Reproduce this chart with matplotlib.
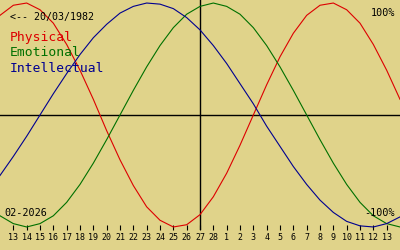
import matplotlib
matplotlib.use("Agg")
import matplotlib.pyplot as plt

# day index 0 = 13 Feb 2026, 14 = 27 Feb 2026 (today)
days = list(range(-1, 30))
tick_days = list(range(0, 29))
tick_labels = [str(d) for d in range(13, 29)] + [str(d) for d in range(1, 14)]

# biorhythm values in %, read per day (12 Feb .. 14 Mar)
physical = [89, 98, 100, 94, 82, 63, 40, 14, -14, -40, -63, -82, -94, -100, -98,
            -89, -73, -52, -27, 0, 27, 52, 73, 89, 98, 100, 94, 82, 63, 40, 14]
emotional = [-90, -97, -100, -97, -90, -78, -62, -43, -22, 0, 22, 43, 62, 78, 90,
             97, 100, 97, 90, 78, 62, 43, 22, 0, -22, -43, -62, -78, -90, -97, -100]
intellectual = [-54, -37, -19, 0, 19, 37, 54, 69, 81, 91, 97, 100, 99, 95, 87,
                76, 62, 46, 28, 10, -10, -28, -46, -62, -76, -87, -95, -99, -100, -97, -91]
today = 14

bg = "#e0d38a"
font = "DejaVu Sans Mono"

fig = plt.figure(figsize=(4, 2.5), dpi=100, facecolor=bg)
ax = fig.add_axes([0, 20 / 250, 1, 230 / 250], facecolor=bg)
ax.set_xlim(-1, 29)
ax.set_ylim(-102.7, 102.7)

ax.axhline(0, color="black", lw=1)
ax.axvline(today, color="black", lw=1)
ax.plot(days, physical, color="#dd0000", lw=0.8)
ax.plot(days, emotional, color="#007000", lw=0.8)
ax.plot(days, intellectual, color="#000090", lw=0.8)

for s in ax.spines.values():
    s.set_visible(False)
ax.set_yticks([])
ax.set_xticks(tick_days)
ax.set_xticklabels(tick_labels, fontfamily=font, fontsize=6)
ax.tick_params(axis="x", direction="in", length=3.6, width=0.8, pad=2.5, colors="black")


def px(x, y, s, **kw):
    fig.text(x / 400, 1 - y / 250, s, fontfamily=font, va="center", **kw)


px(10, 17, "<-- 20/03/1982", fontsize=7.2)
px(10, 38, "Physical", fontsize=9.4, color="#dd0000")
px(10, 53, "Emotional", fontsize=9.4, color="#007000")
px(10, 68, "Intellectual", fontsize=9.4, color="#000090")
px(395, 13, "100%", fontsize=7.3, ha="right")
px(395, 213, "-100%", fontsize=7.3, ha="right")
px(4, 213, "02-2026", fontsize=7.3)

fig.savefig("out.png", dpi=100, facecolor=bg)
